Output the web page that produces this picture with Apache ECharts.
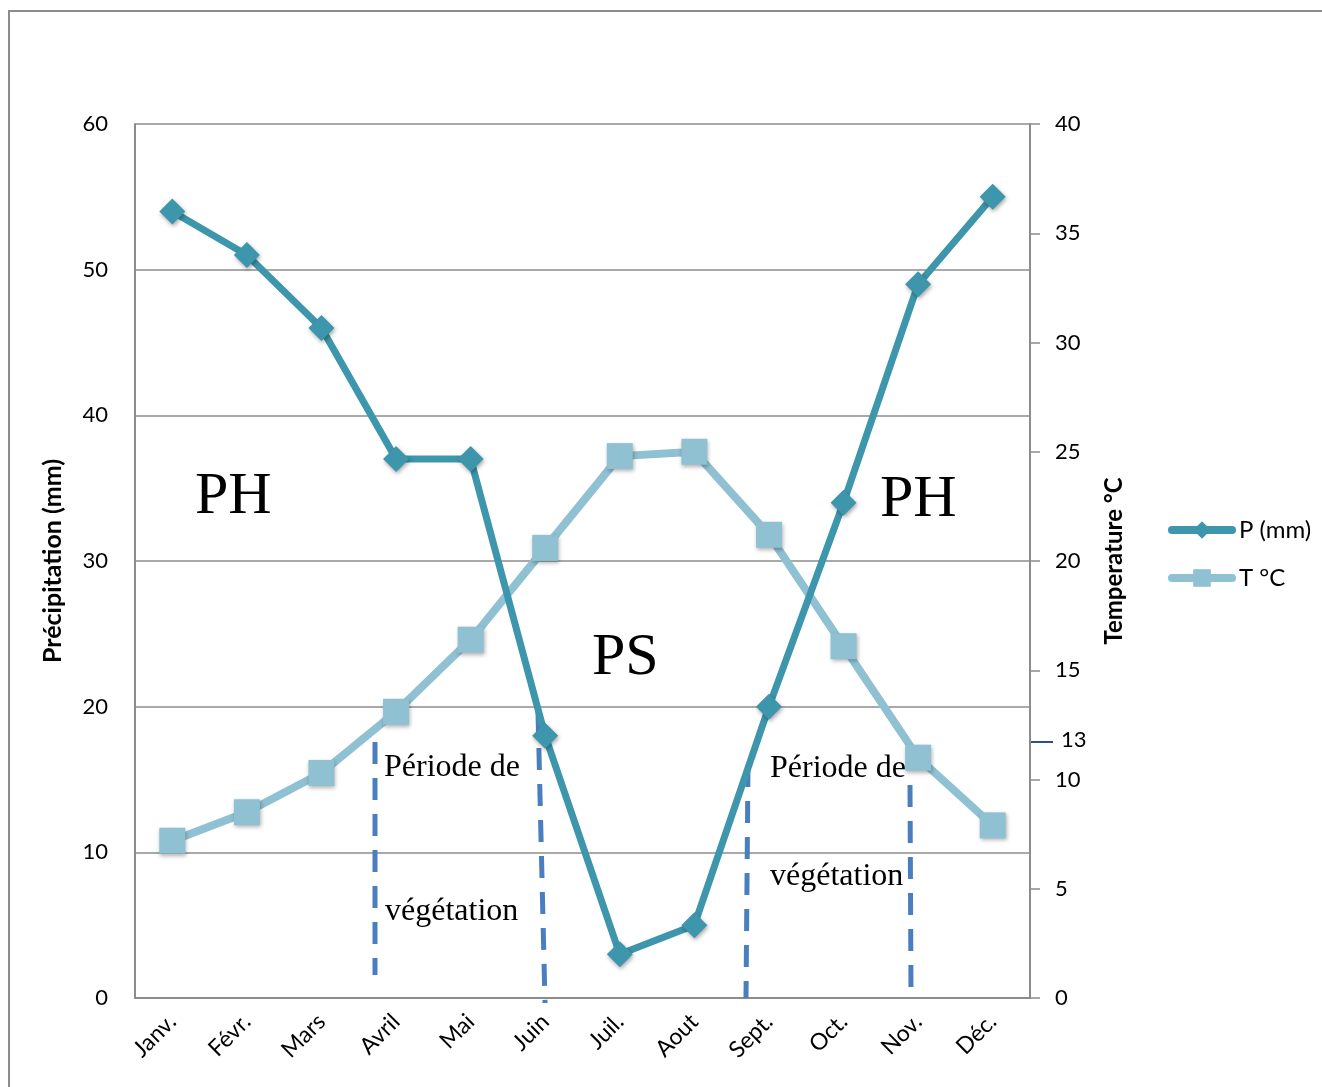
<!DOCTYPE html>
<html><head><meta charset="utf-8">
<script src="https://cdn.jsdelivr.net/npm/echarts@6/dist/echarts.min.js"></script>
<style>html,body{margin:0;padding:0;background:#fff}#c{width:1322px;height:1087px}</style>
</head><body><div id="c"></div>
<script>
const months = ['Janv.','Févr.','Mars','Avril','Mai','Juin','Juil.','Aout','Sept.','Oct.','Nov.','Déc.'];
const precip = [54, 51, 46, 37, 37, 18, 3, 5, 20, 34, 49, 55];
const temp = [7.2, 8.5, 10.3, 13.1, 16.4, 20.6, 24.8, 25.0, 21.2, 16.1, 11.0, 7.9];
const leftTicks = [0, 60, 10];
const rightTicks = [0, 40, 5];

const chart = echarts.init(document.getElementById('c'));
const font = 'Lato, "Open Sans", sans-serif';
const serif = '"Liberation Serif", "DejaVu Serif", serif';
const dash = '#4a7ebf';
function vline(x1,y1,x2,y2){
  return {type:'line', shape:{x1,y1,x2,y2}, style:{stroke:dash, lineWidth:5, lineDash:[22,14]}, z:1};
}
function txt(x,y,t,size){
  return {type:'text', x, y, style:{text:t, font: size+'px '+serif, fill:'#000'}, z:5};
}
chart.setOption({
  animation:false,
  grid:{left:135, right:292, top:124, bottom:89},
  legend:{
    orient:'vertical', left:1163, top:513, itemGap:24, itemWidth:60, itemHeight:22,
    lineStyle:{width:8, cap:'round'},
    textStyle:{fontFamily:font, fontSize:24, color:'#000', padding:[0,0,0,2]},
    data:['P (mm)','T °C']
  },
  xAxis:{
    type:'category', data:months, boundaryGap:true,
    axisLine:{lineStyle:{color:'#8c8c8c', width:2}},
    axisTick:{show:false},
    axisLabel:{rotate:45, fontFamily:font, fontSize:23, color:'#000', margin:20}
  },
  yAxis:[
    {type:'value', min:leftTicks[0], max:leftTicks[1], interval:leftTicks[2],
     name:'Précipitation (mm)', nameLocation:'middle', nameGap:70,
     nameTextStyle:{fontFamily:font, fontSize:25, fontWeight:'bold', color:'#000'},
     axisLine:{show:true, lineStyle:{color:'#8c8c8c', width:2}},
     axisTick:{show:false},
     axisLabel:{fontFamily:font, fontSize:22, color:'#000', margin:27},
     splitLine:{lineStyle:{color:'#8c8c8c', width:1.5}}},
    {type:'value', min:rightTicks[0], max:rightTicks[1], interval:rightTicks[2],
     name:'Temperature °C', nameLocation:'middle', nameGap:72,
     nameTextStyle:{fontFamily:font, fontSize:24, fontWeight:'bold', color:'#000'},
     axisLine:{show:true, lineStyle:{color:'#8c8c8c', width:2}},
     axisTick:{show:true, length:10, lineStyle:{color:'#8c8c8c', width:1.5}},
     axisLabel:{fontFamily:font, fontSize:22, color:'#000', margin:25},
     splitLine:{show:false}}
  ],
  series:[
    {name:'P (mm)', type:'line', yAxisIndex:0, data:precip, symbol:'diamond', symbolSize:26,
     lineStyle:{color:'#3d96ab', width:7}, itemStyle:{color:'#3d96ab', shadowColor:'rgba(0,0,0,0.35)', shadowBlur:4, shadowOffsetX:1, shadowOffsetY:2}, z:3},
    {name:'T °C', type:'line', yAxisIndex:1, data:temp, symbol:'rect', symbolSize:26,
     lineStyle:{color:'#8fc1d3', width:8}, itemStyle:{color:'#8fc1d3', shadowColor:'rgba(0,0,0,0.3)', shadowBlur:4, shadowOffsetX:1, shadowOffsetY:2}, z:2}
  ],
  graphic:[
    {type:'rect', shape:{x:9, y:11, width:1330, height:1100}, style:{fill:'none', stroke:'#8c8c8c', lineWidth:2}, z:0},
    vline(375,742,375,975),
    vline(538,712,545,1003),
    vline(748,765,746,998),
    vline(910,785,911,992),
    txt(195,467,'PH',60),
    txt(880,470,'PH',60),
    txt(592,628,'PS',60),
    txt(384,752,'Période de',32),
    txt(385,896,'végétation',32),
    txt(770,753,'Période de',32),
    txt(770,861,'végétation',32),
    {type:'line', shape:{x1:1031,y1:742,x2:1053,y2:742}, style:{stroke:'#2f4f8a', lineWidth:2}},
    {type:'text', x:1061, y:729, style:{text:'13', font:'22px '+font, fill:'#000'}}
  ]
});
</script></body></html>
